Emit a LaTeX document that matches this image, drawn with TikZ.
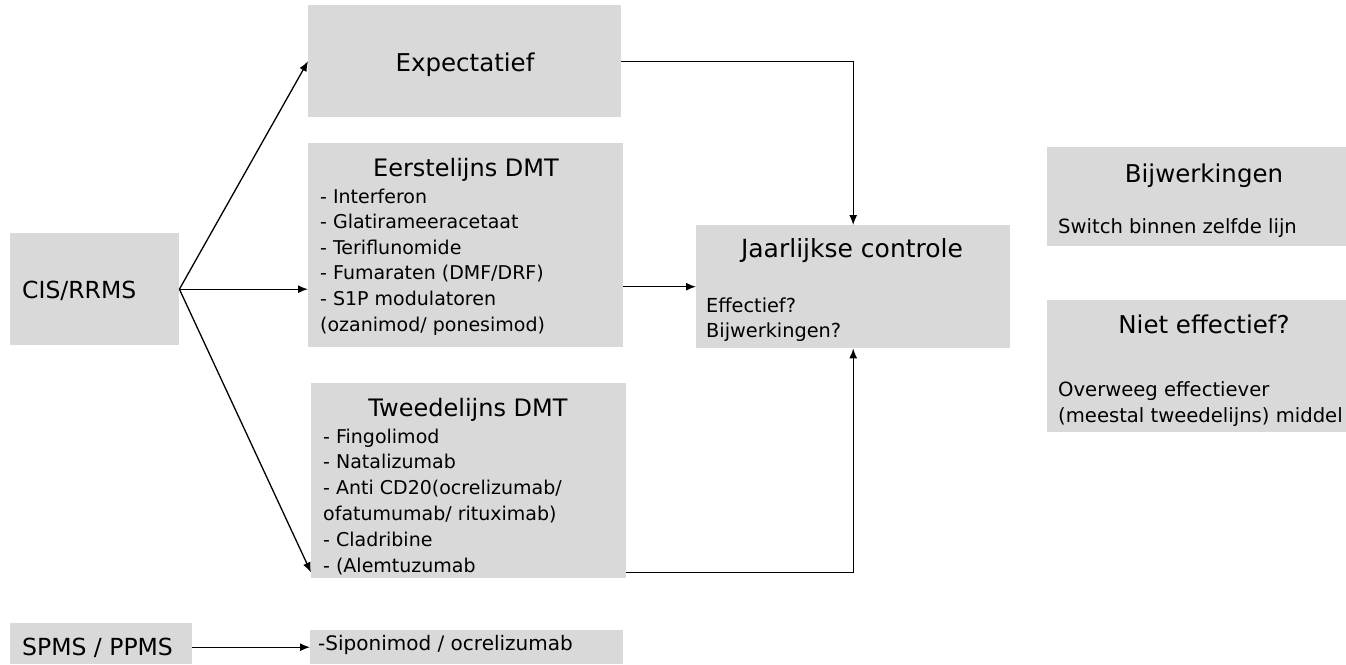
\documentclass[tikz,border=0pt]{standalone}
\usepackage{fontspec}
\setmainfont{DejaVu Sans}
\usetikzlibrary{arrows.meta,calc}
\definecolor{boxgray}{HTML}{D9D9D9}
\newcommand\myfs[1]{\fontsize{#1}{#1}\selectfont}
\begin{document}
\begin{tikzpicture}[x=1pt,y=-1pt,
  box/.style={fill=boxgray, draw=none, inner sep=0pt, anchor=north west},
  conn/.style={line width=1.3pt, -{Latex[length=10pt,width=8pt]}},
  txt/.style={inner sep=0pt, text=black},
  head/.style={txt, font=\myfs{24}, anchor=base},
  lst/.style={txt, font=\myfs{19}, anchor=base west},
  body/.style={txt, font=\myfs{19.3}, anchor=base west}]
\useasboundingbox (0,0) rectangle (1346,664);

% boxes
\node[box, minimum width=169pt, minimum height=112pt] (cis) at (10,233) {};
\node[box, minimum width=313pt, minimum height=112pt] (exp) at (308,5) {};
\node[box, minimum width=315pt, minimum height=204pt] (eer) at (308,143) {};
\node[box, minimum width=315pt, minimum height=195pt] (twee) at (311,383) {};
\node[box, minimum width=314pt, minimum height=123pt] (jaar) at (696,225) {};
\node[box, minimum width=299pt, minimum height=99pt] (bij) at (1047,147) {};
\node[box, minimum width=299pt, minimum height=132pt] (niet) at (1047,300) {};
\node[box, minimum width=182pt, minimum height=41pt] (spms) at (10,623) {};
\node[box, minimum width=313pt, minimum height=34pt] (sipo) at (310,630) {};

% texts
\node[txt, font=\myfs{23.5}, anchor=base west] (cist) at (22,298) {CIS/RRMS};
\node[txt, font=\myfs{24.5}, anchor=base] (expt) at (465,71) {Expectatief};

\node[head] (eerh) at (466,176) {Eerstelijns DMT};
\foreach \t [count=\i] in {{- Interferon},{- Glatirameeracetaat},{- Teriflunomide},{- Fumaraten (DMF/DRF)},{- S1P modulatoren},{(ozanimod/ ponesimod)}}
  \node[lst] (eerl\i) at (320,{203+25.6*(\i-1)}) {\t};

\node[head] (tweeh) at (468,416) {Tweedelijns DMT};
\foreach \t [count=\i] in {{- Fingolimod},{- Natalizumab},{- Anti CD20(ocrelizumab/},{ofatumumab/ rituximab)},{- Cladribine},{- (Alemtuzumab}}
  \node[lst] (tweel\i) at (323,{443+25.8*(\i-1)}) {\t};

\node[txt, font=\myfs{25}, anchor=base] (jaarh) at (852,257) {Jaarlijkse controle};
\node[body] (jaar1) at (706,312) {Effectief?};
\node[body] (jaar2) at (706,337) {Bijwerkingen?};

\node[txt, font=\myfs{24.5}, anchor=base] (bijh) at (1204,182) {Bijwerkingen};
\node[body, font=\myfs{19.6}] (bij1) at (1058,233) {Switch binnen zelfde lijn};

\node[txt, font=\myfs{24.5}, anchor=base] (nieth) at (1204,333) {Niet effectief?};
\node[body, font=\myfs{19.6}] (niet1) at (1058,396) {Overweeg effectiever};
\node[body, font=\myfs{19.6}] (niet2) at (1058,422) {(meestal tweedelijns) middel};

\node[txt, font=\myfs{23.5}, anchor=base west] (spmst) at (22,655) {SPMS / PPMS};
\node[txt, font=\myfs{20}, anchor=base west] (sipot) at (318,650) {-Siponimod / ocrelizumab};

% connectors
\draw[conn] (cis.east) -- (exp.west);
\draw[conn] (cis.east) -- (eer.west |- cis.east);
\draw[conn] (cis.east) -- ($(twee.south west)+(0,-6)$);
\draw[conn] (exp.east) -| (jaar.north);
\draw[conn] (eer.east |- jaar.west) -- (jaar.west);
\draw[conn] ($(twee.south east)+(0,-6)$) -| (jaar.south);
\draw[conn] (spms.east |- sipo.west) -- (sipo.west);
\end{tikzpicture}
\end{document}
